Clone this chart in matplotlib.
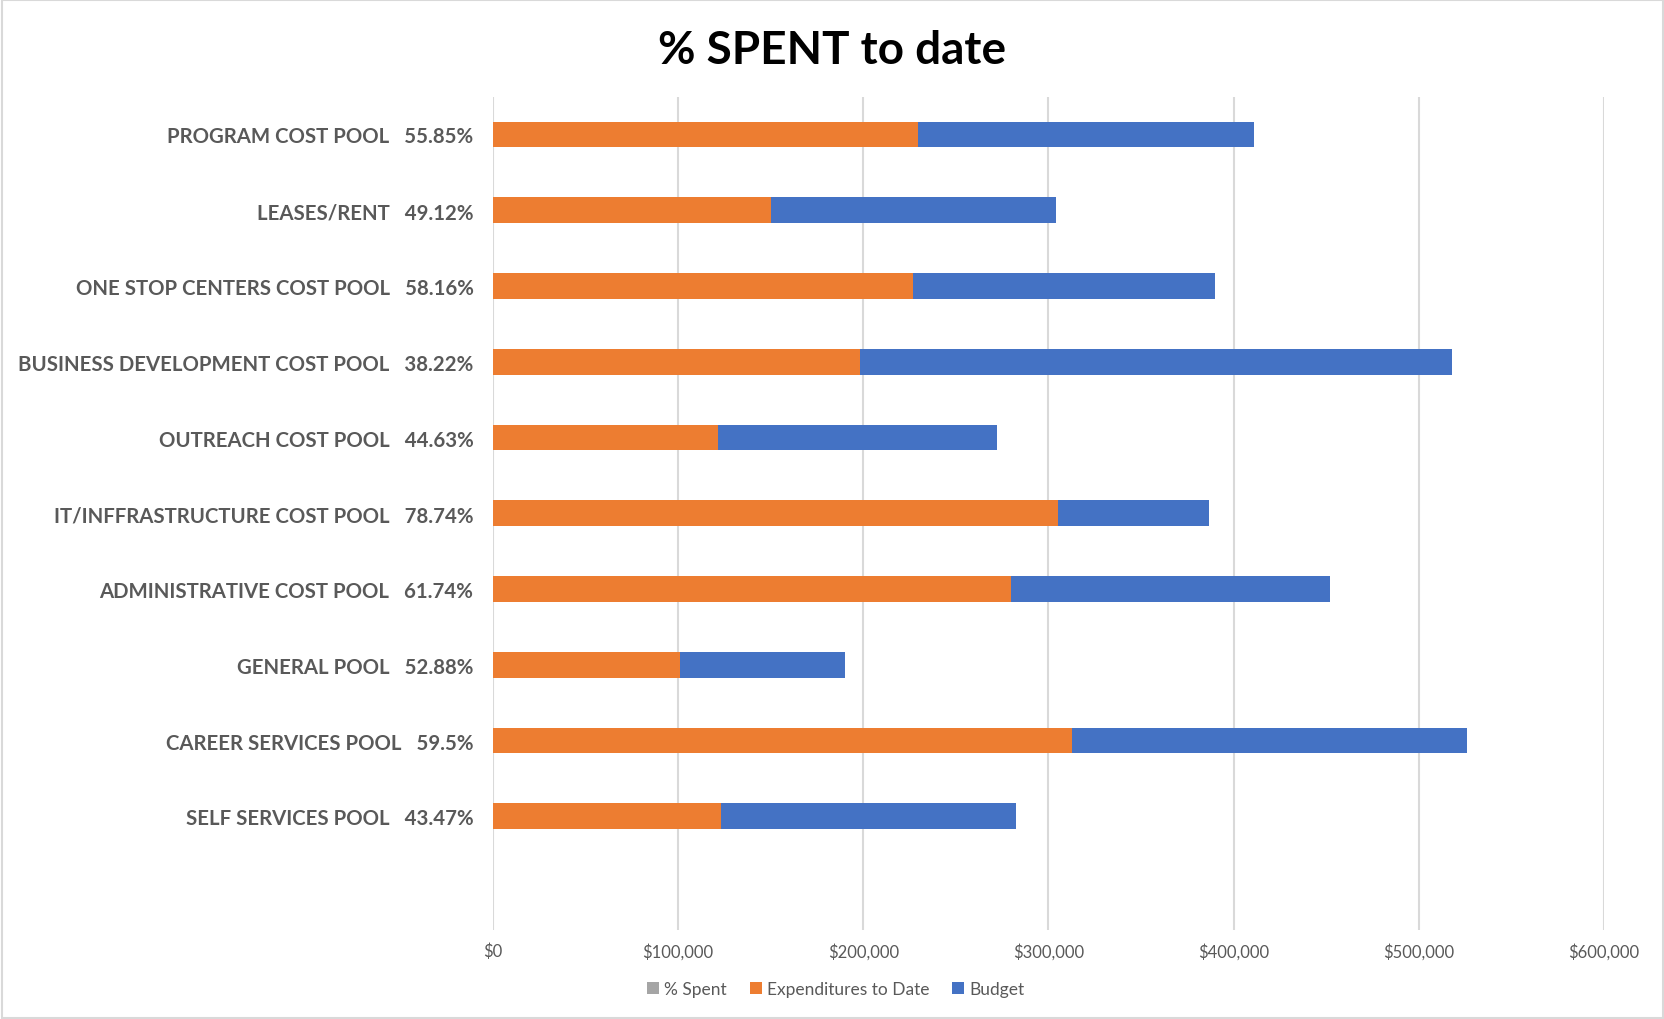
import numpy as np
import matplotlib.pyplot as plt
from matplotlib.patches import Rectangle
from matplotlib.ticker import FuncFormatter

# data (top to bottom as shown)
categories = ["PROGRAM COST POOL", "LEASES/RENT", "ONE STOP CENTERS COST POOL",
              "BUSINESS DEVELOPMENT COST POOL", "OUTREACH COST POOL",
              "IT/INFFRASTRUCTURE COST POOL", "ADMINISTRATIVE COST POOL",
              "GENERAL POOL", "CAREER SERVICES POOL", "SELF SERVICES POOL"]
pct_labels = ["55.85%", "49.12%", "58.16%", "38.22%", "44.63%",
              "78.74%", "61.74%", "52.88%", "59.5%", "43.47%"]
pct_spent = [0.5585, 0.4912, 0.5816, 0.3822, 0.4463,
             0.7874, 0.6174, 0.5288, 0.595, 0.4347]
expenditures = [229800, 150100, 226900, 198300, 121500,
                305400, 279700, 100900, 312900, 123200]
budget = [410900, 304300, 389700, 518100, 272200,
          386800, 452100, 190300, 526100, 282500]

ORANGE = "#ED7D31"
BLUE = "#4472C4"
GRAY = "#A5A5A5"
TXT = "#595959"

plt.rcParams['font.family'] = ['Lato', 'DejaVu Sans']

fig = plt.figure(figsize=(16.65, 10.2), dpi=100)
ax = fig.add_axes([0.296, 0.0873, 0.6674, 0.817])

n = len(categories)
# one empty slot at the bottom, like the Excel source
y = np.arange(n, 0, -1)
h = 0.34

ax.barh(y, pct_spent, height=h, color=GRAY, label="% Spent", zorder=3)
ax.barh(y, budget, height=h, color=BLUE, label="Budget", zorder=2)
ax.barh(y, expenditures, height=h, color=ORANGE, label="Expenditures to Date", zorder=3)

ax.set_xlim(0, 600000)
ax.set_ylim(-0.5, n + 0.5)
ax.set_xticks(np.arange(0, 600001, 100000))
ax.xaxis.set_major_formatter(FuncFormatter(lambda v, p: "${:,.0f}".format(v)))
ax.set_yticks(y)
ax.set_yticklabels([c + "   " + p for c, p in zip(categories, pct_labels)],
                   fontsize=14.7, fontweight="bold", color=TXT)
ax.tick_params(axis="x", colors=TXT, labelsize=12, length=0, pad=9)
ax.tick_params(axis="y", length=0, pad=14)
for s in ax.spines.values():
    s.set_visible(False)
ax.grid(axis="x", color="#D9D9D9", linewidth=1.5, zorder=0)
ax.set_axisbelow(True)

fig.suptitle("% SPENT to date", x=0.5, y=0.971, fontsize=33, fontweight="bold",
             color="black", va="top")

handles, labels = ax.get_legend_handles_labels()
order = [0, 2, 1]
fig.legend([handles[i] for i in order], [labels[i] for i in order],
           loc="center", bbox_to_anchor=(0.502, 0.029), ncol=3, frameon=False,
           fontsize=12.5, labelcolor=TXT, handlelength=0.7, handleheight=0.7,
           handletextpad=0.3, columnspacing=1.3)

fig.add_artist(Rectangle((0.001, 0.001), 0.998, 0.998, transform=fig.transFigure,
                         fill=False, edgecolor="#D9D9D9", linewidth=1.5))

plt.savefig("out.png", dpi=100)
